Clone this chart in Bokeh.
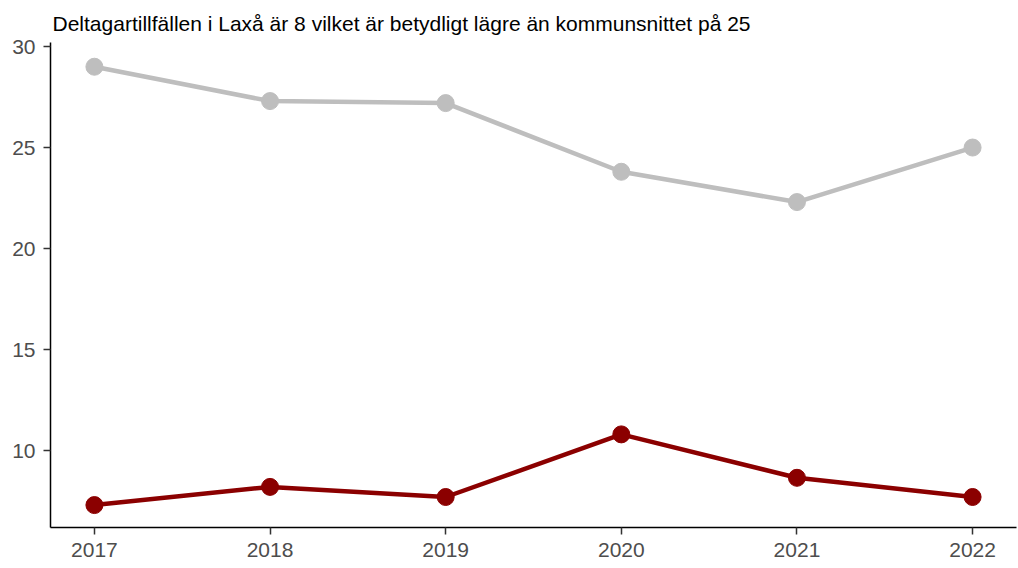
from bokeh.plotting import figure
from bokeh.models import Range1d, Title, FixedTicker
from bokeh.embed import file_html
from bokeh.resources import INLINE

years = [2017, 2018, 2019, 2020, 2021, 2022]
kommun = [29.0, 27.3, 27.2, 23.8, 22.3, 25.0]
laxa = [7.3, 8.2, 7.7, 10.8, 8.65, 7.7]
y_ticks = [10, 15, 20, 25, 30]
title_text = "Deltagartillfällen i Laxå är  8 vilket är betydligt lägre än kommunsnittet på 25"

p = figure(width=1018, height=568, output_backend="svg", toolbar_location=None,
           x_range=Range1d(2016.75, 2022.25), y_range=Range1d(6.19, 30.2),
           min_border_left=50, min_border_right=2, min_border_top=42, min_border_bottom=41)
p.title = Title(text=title_text, text_font="Liberation Sans", text_font_size="21px",
                text_font_style="normal", text_color="black", align="left", offset=2,
                text_line_height=1.0, standoff=16)
p.outline_line_color = None
p.xgrid.visible = False
p.ygrid.visible = False
p.background_fill_color = "white"
p.border_fill_color = "white"

for ax in (p.xaxis[0], p.yaxis[0]):
    ax.axis_line_color = "black"
    ax.axis_line_width = 1.5
    ax.major_tick_line_color = "#333333"
    ax.major_tick_line_width = 1.5
    ax.major_tick_out = 7
    ax.major_tick_in = 0
    ax.minor_tick_line_color = None
    ax.major_label_text_font = "Liberation Sans"
    ax.major_label_text_font_size = "21px"
    ax.major_label_text_color = "#4D4D4D"
    ax.major_label_standoff = 8

p.xaxis.ticker = FixedTicker(ticks=years)
p.yaxis.ticker = FixedTicker(ticks=y_ticks)

p.line(years, kommun, line_color="#BEBEBE", line_width=4.5)
p.scatter(years, kommun, size=17, fill_color="#BEBEBE", line_color="#BEBEBE")
p.line(years, laxa, line_color="#8B0000", line_width=4.5)
p.scatter(years, laxa, size=17, fill_color="#8B0000", line_color="#8B0000")

open("out.html", "w").write(file_html(p, INLINE))
